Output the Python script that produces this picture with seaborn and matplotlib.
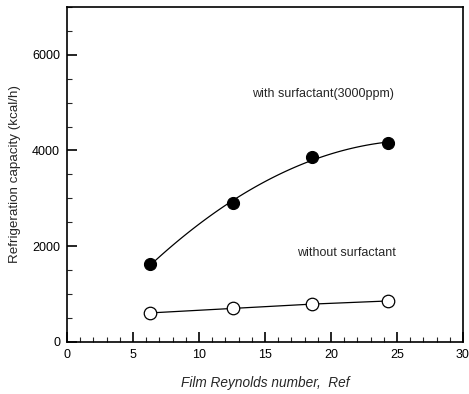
import matplotlib
matplotlib.use("Agg")
import matplotlib.pyplot as plt
import matplotlib.ticker as mticker
import seaborn as sns
import pandas as pd

# data
re_film = [6.3, 12.6, 18.6, 24.3]
cap_with = [1620, 2890, 3870, 4150]
cap_without = [600, 695, 785, 850]

sns.set_style("ticks")
plt.rcParams['font.family'] = ['Liberation Sans Narrow', 'Liberation Sans', 'DejaVu Sans']

df_with = pd.DataFrame({"Ref": re_film, "cap": cap_with})
df_without = pd.DataFrame({"Ref": re_film, "cap": cap_without})

fig = plt.figure(figsize=(4.69, 3.94), dpi=100)
ax = fig.add_axes([0.143, 0.133, 0.844, 0.849])

# smooth fitted curve for the surfactant case
sns.regplot(data=df_with, x="Ref", y="cap", order=2, ci=None, ax=ax,
            scatter=False, truncate=True,
            line_kws={"color": "black", "linewidth": 0.9})
sns.scatterplot(data=df_with, x="Ref", y="cap", ax=ax, color="black",
                s=75, edgecolor="black", linewidth=0.8, zorder=3)

sns.lineplot(data=df_without, x="Ref", y="cap", ax=ax, color="black",
             linewidth=0.9, marker="o", markersize=9,
             markerfacecolor="white", markeredgecolor="black",
             markeredgewidth=0.9)

ax.text(14.0, 5180, "with surfactant(3000ppm)", fontsize=9, va="center")
ax.text(17.4, 1850, "without surfactant", fontsize=9, va="center")

ax.set_xlim(0, 30)
ax.set_ylim(0, 7000)
ax.xaxis.set_major_locator(mticker.MultipleLocator(5))
ax.xaxis.set_minor_locator(mticker.MultipleLocator(1))
ax.yaxis.set_major_locator(mticker.FixedLocator([0, 2000, 4000, 6000]))
ax.yaxis.set_minor_locator(mticker.MultipleLocator(500))
ax.tick_params(which="major", direction="in", length=7, width=1.2,
               labelsize=9, colors="black", pad=5)
ax.tick_params(which="minor", direction="in", length=3.5, width=0.8)
for s in ax.spines.values():
    s.set_color("black")
    s.set_linewidth(1.2)

ax.set_xlabel("Film Reynolds number,  Ref", fontsize=9.8, style="italic",
              labelpad=11)
ax.set_ylabel("Refrigeration capacity (kcal/h)", fontsize=9.6, labelpad=8)

fig.savefig("out.png", dpi=100)
